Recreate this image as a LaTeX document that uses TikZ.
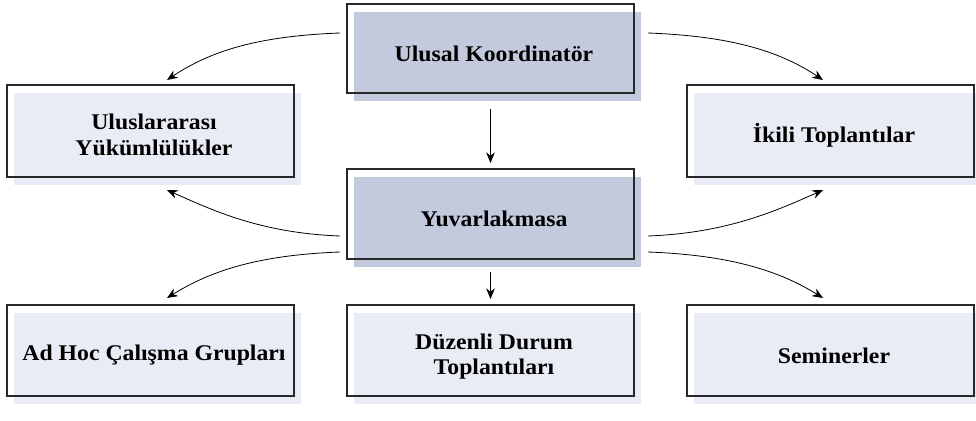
\documentclass[tikz,border=0pt]{standalone}
\usepackage{fontspec}
\setmainfont{Liberation Serif}[FakeStretch=1.06]
\usetikzlibrary{arrows.meta,backgrounds}

\definecolor{darkfill}{RGB}{195,202,221}
\definecolor{lightfill}{RGB}{233,236,244}
\definecolor{framecol}{RGB}{40,40,40}

\begin{document}
\begin{tikzpicture}[x=0.75pt,y=-0.75pt,
  frame/.style={draw=framecol, line width=0.8pt, minimum width=215.25pt, inner sep=0pt, outer sep=0pt},
  boxtext/.style={font=\bfseries\fontsize{16.8}{19}\selectfont, align=center, inner sep=0pt},
  conn/.style={line width=0.6pt, -{Stealth[length=8pt,width=6.5pt]}}
]
\useasboundingbox (0,0) rectangle (976,421);

% outline frames
\node[frame, minimum height=66.75pt] (A) at (490.5,48.5) {};
\node[frame, minimum height=69pt] (B) at (150.5,131) {};
\node[frame, minimum height=67.5pt] (C) at (490.5,214) {};
\node[frame, minimum height=69pt] (D) at (830.5,131) {};
\node[frame, minimum height=68.25pt] (E) at (150.5,350.5) {};
\node[frame, minimum height=68.25pt] (F) at (490.5,350.5) {};
\node[frame, minimum height=68.25pt] (G) at (830.5,350.5) {};

% offset fills
\begin{pgfonlayer}{background}
\fill[darkfill] ([shift={(7,8)}]A.north west) rectangle ([shift={(7,8)}]A.south east);
\fill[lightfill] ([shift={(7,8)}]B.north west) rectangle ([shift={(7,8)}]B.south east);
\fill[darkfill] ([shift={(7,8)}]C.north west) rectangle ([shift={(7,8)}]C.south east);
\fill[lightfill] ([shift={(7,8)}]D.north west) rectangle ([shift={(7,8)}]D.south east);
\fill[lightfill] ([shift={(7,8)}]E.north west) rectangle ([shift={(7,8)}]E.south east);
\fill[lightfill] ([shift={(7,8)}]F.north west) rectangle ([shift={(7,8)}]F.south east);
\fill[lightfill] ([shift={(7,8)}]G.north west) rectangle ([shift={(7,8)}]G.south east);
\end{pgfonlayer}

% texts
\node[boxtext] (At) at ([shift={(3.5,5)}]A.center) {Ulusal Koordinatör};
\node[boxtext] (Bt) at ([shift={(3.5,4)}]B.center) {Uluslararası\\Yükümlülükler};
\node[boxtext] (Ct) at ([shift={(3.5,5)}]C.center) {Yuvarlakmasa};
\node[boxtext] (Dt) at ([shift={(3.5,4)}]D.center) {İkili Toplantılar};
\node[boxtext] (Et) at ([shift={(3.5,5)}]E.center) {Ad Hoc Çalışma Grupları};
\node[boxtext] (Ft) at ([shift={(3.5,6)}]F.center) {Düzenli Durum\\Toplantıları};
\node[boxtext] (Gt) at ([shift={(3.5,5)}]G.center) {Seminerler};

% connectors
\draw[conn] ([shift={(-7,-15.5)}]A.west) .. controls +(-80,3) and +(45,-30) .. ([shift={(16.5,-5)}]B.north);
\draw[conn] ([shift={(14,-15.5)}]A.east) .. controls +(80,3) and +(-45,-30) .. ([shift={(-7.5,-5)}]D.north);
\draw[conn] ([shift={(0,16)}]A.south) -- ([shift={(0,-6)}]C.north);
\draw[conn] ([shift={(-7,22)}]C.west) .. controls +(-80,-3) and +(45,20) .. ([shift={(16.5,13)}]B.south);
\draw[conn] ([shift={(14,22)}]C.east) .. controls +(80,-3) and +(-45,20) .. ([shift={(-7.5,13)}]D.south);
\draw[conn] ([shift={(-7,38)}]C.west) .. controls +(-80,3) and +(45,-28) .. ([shift={(16.5,-7)}]E.north);
\draw[conn] ([shift={(14,38)}]C.east) .. controls +(80,3) and +(-45,-28) .. ([shift={(-7.5,-7)}]G.north);
\draw[conn] ([shift={(0,13)}]C.south) -- ([shift={(0,-6)}]F.north);
\end{tikzpicture}
\end{document}
